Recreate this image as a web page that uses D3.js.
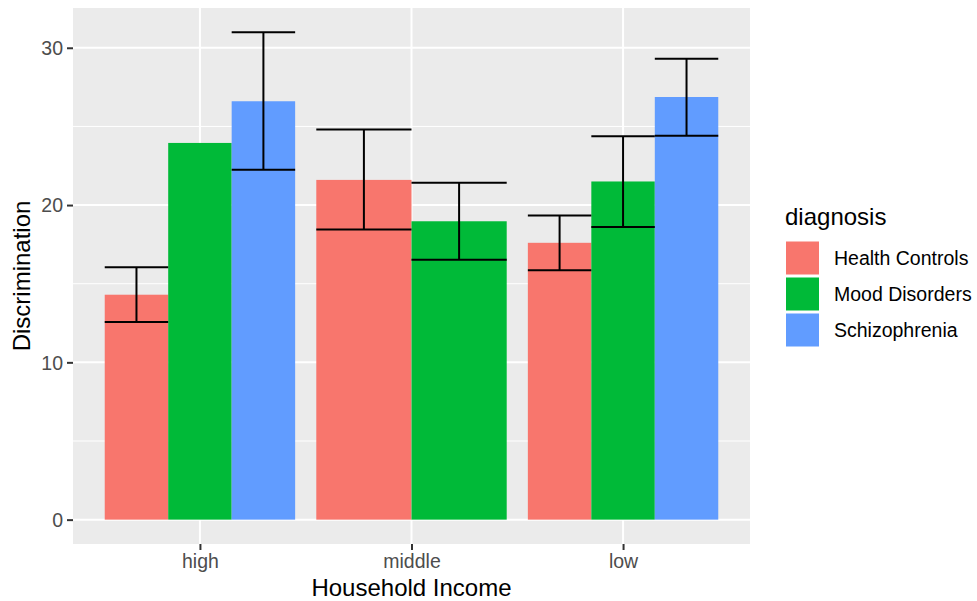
<!DOCTYPE html>
<html>
<head>
<meta charset="utf-8">
<script src="https://cdn.jsdelivr.net/npm/d3@7"></script>
<style>
  html, body { margin: 0; padding: 0; background: #fff; }
  svg { display: block; font-family: "Liberation Sans", Arial, sans-serif; }
</style>
</head>
<body>
<svg id="chart" width="977" height="601"></svg>
<script>
// Household income groups on the x axis
const incomeGroups = ["high", "middle", "low"];
// Diagnosis groups (fill)
const diagnoses = ["Health Controls", "Mood Disorders", "Schizophrenia"];
const diagnosisColors = ["#F8766D", "#00BA38", "#619CFF"];

// Mean discrimination score per income group, one array per diagnosis (null = no data)
const healthControlsMean = [14.3, 21.6, 17.6];
const moodDisordersMean  = [23.95, 18.97, 21.5];
const schizophreniaMean  = [26.6, null, 26.87];

// Error bar limits (lower / upper), null where not drawn
const healthControlsLower = [12.57, 18.44, 15.85];
const healthControlsUpper = [16.04, 24.8, 19.33];
const moodDisordersLower  = [null, 16.53, 18.61];
const moodDisordersUpper  = [null, 21.42, 24.37];
const schizophreniaLower  = [22.25, null, 24.41];
const schizophreniaUpper  = [30.98, null, 29.31];

const yTicks = [0, 10, 20, 30];
const yMinorTicks = [5, 15, 25];

const means = [healthControlsMean, moodDisordersMean, schizophreniaMean];
const lowers = [healthControlsLower, moodDisordersLower, schizophreniaLower];
const uppers = [healthControlsUpper, moodDisordersUpper, schizophreniaUpper];

// Long-format rows built from the arrays above
const rows = [];
incomeGroups.forEach((g, gi) => {
  diagnoses.forEach((d, di) => {
    const v = means[di][gi];
    if (v == null) return;
    rows.push({ group: g, diagnosis: d, color: diagnosisColors[di],
                value: v, lower: lowers[di][gi], upper: uppers[di][gi] });
  });
});

const svg = d3.select("#chart");
const panel = { left: 73, right: 750, top: 8, bottom: 544 };

// Discrete x: ggplot-style 0.6 expansion on each side
const x = d3.scalePoint().domain(incomeGroups)
  .range([panel.left, panel.right]).padding(0.6);
const step = x.step();

// Continuous y with 5% expansion
const dataMax = d3.max(rows, r => Math.max(r.value, r.upper ?? r.value));
const dataMin = 0;
const pad = (dataMax - dataMin) * 0.05;
const y = d3.scaleLinear().domain([dataMin - pad, dataMax + pad])
  .range([panel.bottom, panel.top]);

// Panel background
svg.append("rect")
  .attr("x", panel.left).attr("y", panel.top)
  .attr("width", panel.right - panel.left).attr("height", panel.bottom - panel.top)
  .attr("fill", "#EBEBEB");

// Grid lines
const grid = svg.append("g");
grid.selectAll("line.minor").data(yMinorTicks).join("line")
  .attr("x1", panel.left).attr("x2", panel.right)
  .attr("y1", d => y(d)).attr("y2", d => y(d))
  .attr("stroke", "#fff").attr("stroke-width", 1);
grid.selectAll("line.majy").data(yTicks).join("line")
  .attr("x1", panel.left).attr("x2", panel.right)
  .attr("y1", d => y(d)).attr("y2", d => y(d))
  .attr("stroke", "#fff").attr("stroke-width", 2);
grid.selectAll("line.majx").data(incomeGroups).join("line")
  .attr("y1", panel.top).attr("y2", panel.bottom)
  .attr("x1", d => x(d)).attr("x2", d => x(d))
  .attr("stroke", "#fff").attr("stroke-width", 2);

// Dodged bars: present bars in each group share 0.9 of the step
const groupWidth = step * 0.9;
const inner = {};
incomeGroups.forEach(g => {
  const present = rows.filter(r => r.group === g).map(r => r.diagnosis);
  inner[g] = d3.scaleBand().domain(present).range([-groupWidth / 2, groupWidth / 2]).padding(0);
});
const bx = r => x(r.group) + inner[r.group](r.diagnosis);
const bw = r => inner[r.group].bandwidth();

svg.append("g").selectAll("rect").data(rows).join("rect")
  .attr("x", bx).attr("width", bw)
  .attr("y", r => y(r.value)).attr("height", r => y(0) - y(r.value))
  .attr("fill", r => r.color);

// Error bars
const eb = svg.append("g").attr("stroke", "#000").attr("stroke-width", 2).attr("fill", "none");
const withErr = rows.filter(r => r.lower != null && r.upper != null);
eb.selectAll("line.v").data(withErr).join("line")
  .attr("x1", r => bx(r) + bw(r) / 2).attr("x2", r => bx(r) + bw(r) / 2)
  .attr("y1", r => y(r.lower)).attr("y2", r => y(r.upper));
eb.selectAll("line.t").data(withErr).join("line")
  .attr("x1", bx).attr("x2", r => bx(r) + bw(r))
  .attr("y1", r => y(r.upper)).attr("y2", r => y(r.upper));
eb.selectAll("line.b").data(withErr).join("line")
  .attr("x1", bx).attr("x2", r => bx(r) + bw(r))
  .attr("y1", r => y(r.lower)).attr("y2", r => y(r.lower));

// Axes
const yAxis = svg.append("g").attr("transform", `translate(${panel.left},0)`)
  .call(d3.axisLeft(y).tickValues(yTicks).tickSize(6).tickPadding(4));
const xAxis = svg.append("g").attr("transform", `translate(0,${panel.bottom})`)
  .call(d3.axisBottom(x).tickSize(6).tickPadding(4));
[yAxis, xAxis].forEach(a => {
  a.select(".domain").remove();
  a.selectAll(".tick line").attr("stroke", "#333").attr("stroke-width", 2);
  a.selectAll(".tick text").attr("fill", "#4D4D4D")
    .style("font-size", "19.5px").style("font-family", "Liberation Sans, Arial, sans-serif");
});
yAxis.selectAll(".tick text").attr("dy", "0.35em");
xAxis.selectAll(".tick text").attr("dy", "0.71em");

// Axis titles
svg.append("text")
  .attr("x", (panel.left + panel.right) / 2).attr("y", 596)
  .attr("text-anchor", "middle").attr("fill", "#000")
  .style("font-size", "24px").text("Household Income");
svg.append("text")
  .attr("transform", `translate(30,${(panel.top + panel.bottom) / 2}) rotate(-90)`)
  .attr("text-anchor", "middle").attr("fill", "#000")
  .style("font-size", "24px").text("Discrimination");

// Legend
const legend = svg.append("g").attr("transform", "translate(786,0)");
legend.append("text").attr("x", -1).attr("y", 225)
  .attr("fill", "#000").style("font-size", "24px").text("diagnosis");
const keySize = 33, keyTop = 241.5, keyGap = 36;
diagnoses.forEach((d, i) => {
  const ky = keyTop + i * keyGap;
  legend.append("rect").attr("x", 0).attr("y", ky)
    .attr("width", keySize).attr("height", keySize)
    .attr("fill", diagnosisColors[i]);
  legend.append("text").attr("x", 48).attr("y", ky + keySize / 2)
    .attr("dy", "0.35em").attr("fill", "#000")
    .style("font-size", "19.5px").text(d);
});
</script>
</body>
</html>
